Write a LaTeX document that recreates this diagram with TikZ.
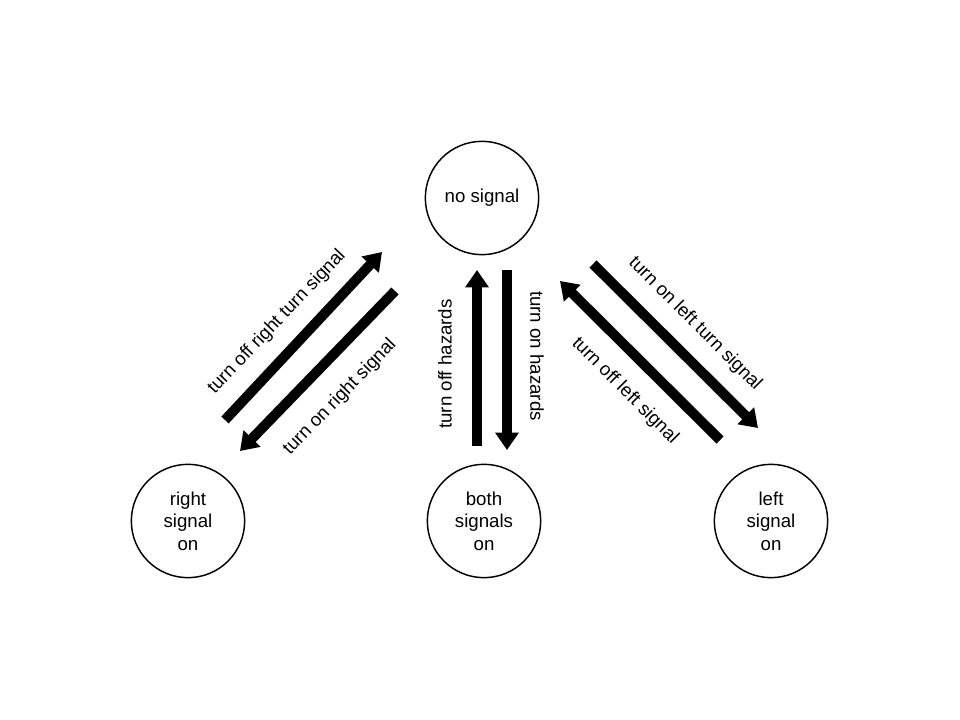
\documentclass[tikz,border=0pt]{standalone}
\usepackage{fontspec}
\setmainfont{Liberation Sans}
\usetikzlibrary{arrows.meta}
\begin{document}
\begin{tikzpicture}[x=0.75pt,y=-0.75pt,
  state/.style={circle,draw,line width=1.1pt,minimum size=85pt,inner sep=0pt,align=center,font=\fontsize{14}{17}\selectfont},
  bigarrow/.style={line width=7.5pt,-{Triangle[length=13pt,width=17pt]}},
  lbl/.style={font=\fontsize{14}{17}\selectfont,inner sep=0pt}]
\useasboundingbox (0,0) rectangle (960,720);
\node[state] (none) at (482,198) {no signal};
\node[state] (right) at (188,521) {right\\signal\\on};
\node[state] (both) at (484,521) {both\\signals\\on};
\node[state] (left) at (771,521) {left\\signal\\on};
% coordinates for arrow ends
\coordinate (a1s) at (225,420); \coordinate (a1e) at (382,252);
\coordinate (a2s) at (395,291); \coordinate (a2e) at (240,451);
\coordinate (a3s) at (477,446); \coordinate (a3e) at (477,270);
\coordinate (a4s) at (507,270); \coordinate (a4e) at (507,450);
\coordinate (a5s) at (593,264); \coordinate (a5e) at (758,428);
\coordinate (a6s) at (720,440); \coordinate (a6e) at (560,281);
\draw[bigarrow] (a1s) -- (a1e);
\draw[bigarrow] (a2s) -- (a2e);
\draw[bigarrow] (a3s) -- (a3e);
\draw[bigarrow] (a4s) -- (a4e);
\draw[bigarrow] (a5s) -- (a5e);
\draw[bigarrow] (a6s) -- (a6e);
\node[lbl,rotate=46.5] (l1) at (277,322) {turn off right turn signal};
\node[lbl,rotate=46] (l2) at (340,397) {turn on right signal};
\node[lbl,rotate=90] (l3) at (445,364) {turn off hazards};
\node[lbl,rotate=-90] (l4) at (537,356) {turn on hazards};
\node[lbl,rotate=-45] (l5) at (695,324) {turn on left turn signal};
\node[lbl,rotate=-45] (l6) at (625,391) {turn off left signal};
\end{tikzpicture}
\end{document}
